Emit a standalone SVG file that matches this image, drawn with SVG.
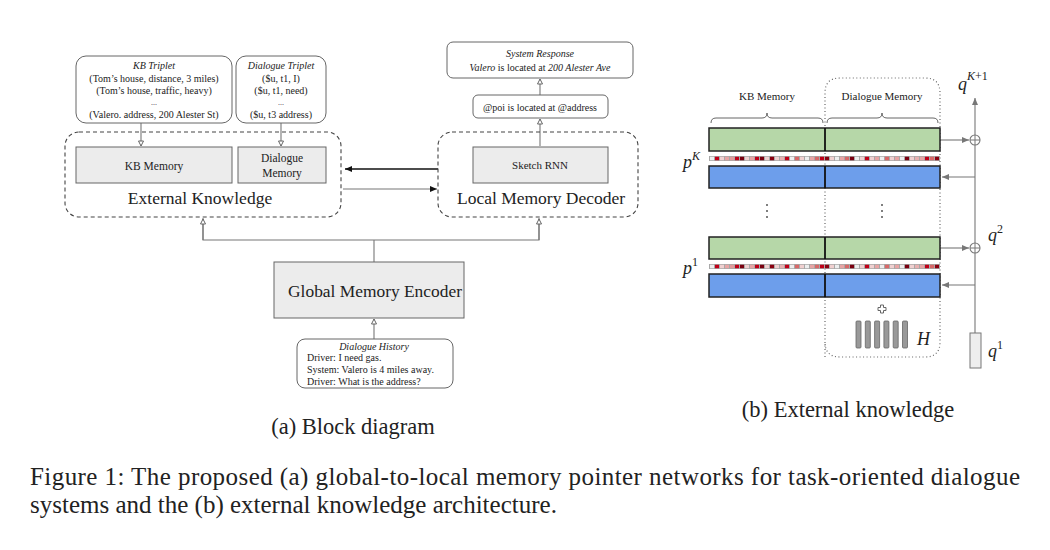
<svg xmlns="http://www.w3.org/2000/svg" xmlns:xlink="http://www.w3.org/1999/xlink" width="1050" height="550" viewBox="0 0 1050 550">
<style>
.serif{font-family:"Liberation Serif","Times New Roman",serif;fill:#222}
.it{font-style:italic}
.rbox{fill:#fff;stroke:#666;stroke-width:1}
.gbox{fill:#ececec;stroke:#666;stroke-width:1}
.dash{fill:none;stroke:#444;stroke-width:1.1;stroke-dasharray:4,3}
.conn{fill:none;stroke:#777;stroke-width:1.1}
.blk{fill:none;stroke:#111;stroke-width:1.3}
.green{fill:#b6d7a8;stroke:#222;stroke-width:1.5}
.blue{fill:#6d9eeb;stroke:#222;stroke-width:1.5}
.dot{fill:none;stroke:#666;stroke-width:1.2;stroke-dasharray:1,2.5}
</style>
<defs>
<marker id="ha" markerWidth="7" markerHeight="7" refX="6" refY="3.5" orient="auto" markerUnits="userSpaceOnUse">
<path d="M1,1 L6,3.5 L1,6 z" fill="#fff" stroke="#666" stroke-width="1"/>
</marker>
<marker id="hb" markerWidth="8" markerHeight="8" refX="7" refY="4" orient="auto" markerUnits="userSpaceOnUse">
<path d="M0,1 L7,4 L0,7 z" fill="#111"/>
</marker>
<marker id="hg" markerWidth="8" markerHeight="8" refX="7" refY="4" orient="auto" markerUnits="userSpaceOnUse">
<path d="M0,1 L7,4 L0,7 z" fill="#777"/>
</marker>
<g id="strip">
<rect x="709" y="0" width="231" height="5" fill="#a8a8a8"/>
<g transform="translate(0,0.75)">
<rect x="710" y="0" width="4" height="3.5" fill="#eeeeee"/><rect x="715" y="0" width="4" height="3.5" fill="#c00018"/><rect x="720" y="0" width="4" height="3.5" fill="#f0d0d0"/><rect x="725" y="0" width="4" height="3.5" fill="#e8a4a4"/><rect x="730" y="0" width="4" height="3.5" fill="#e39a9a"/><rect x="735" y="0" width="4" height="3.5" fill="#c00018"/><rect x="740" y="0" width="4" height="3.5" fill="#7a0010"/><rect x="745" y="0" width="4" height="3.5" fill="#f0d0d0"/><rect x="750" y="0" width="4" height="3.5" fill="#e8a4a4"/><rect x="755" y="0" width="4" height="3.5" fill="#c00018"/><rect x="760" y="0" width="4" height="3.5" fill="#7a0010"/><rect x="765" y="0" width="4" height="3.5" fill="#f0d0d0"/><rect x="770" y="0" width="4" height="3.5" fill="#8a0010"/><rect x="775" y="0" width="4" height="3.5" fill="#f0d0d0"/><rect x="780" y="0" width="4" height="3.5" fill="#e8b0b0"/><rect x="785" y="0" width="4" height="3.5" fill="#c00018"/><rect x="790" y="0" width="4" height="3.5" fill="#eeeeee"/><rect x="795" y="0" width="4" height="3.5" fill="#d86868"/><rect x="800" y="0" width="4" height="3.5" fill="#f0d0d0"/><rect x="805" y="0" width="4" height="3.5" fill="#eeeeee"/><rect x="810" y="0" width="4" height="3.5" fill="#e8a4a4"/><rect x="815" y="0" width="4" height="3.5" fill="#d86868"/><rect x="820" y="0" width="4" height="3.5" fill="#c00018"/><rect x="825" y="0" width="4" height="3.5" fill="#8a0010"/><rect x="830" y="0" width="4" height="3.5" fill="#f0d0d0"/><rect x="835" y="0" width="4" height="3.5" fill="#eeeeee"/><rect x="840" y="0" width="4" height="3.5" fill="#e8a4a4"/><rect x="845" y="0" width="4" height="3.5" fill="#d86868"/><rect x="850" y="0" width="4" height="3.5" fill="#7a0010"/><rect x="855" y="0" width="4" height="3.5" fill="#eeeeee"/><rect x="860" y="0" width="4" height="3.5" fill="#f0d0d0"/><rect x="865" y="0" width="4" height="3.5" fill="#c00018"/><rect x="870" y="0" width="4" height="3.5" fill="#f0d0d0"/><rect x="875" y="0" width="4" height="3.5" fill="#e8a4a4"/><rect x="880" y="0" width="4" height="3.5" fill="#eeeeee"/><rect x="885" y="0" width="4" height="3.5" fill="#d86868"/><rect x="890" y="0" width="4" height="3.5" fill="#f0d0d0"/><rect x="895" y="0" width="4" height="3.5" fill="#e8a4a4"/><rect x="900" y="0" width="4" height="3.5" fill="#eeeeee"/><rect x="905" y="0" width="4" height="3.5" fill="#7a0010"/><rect x="910" y="0" width="4" height="3.5" fill="#f0d0d0"/><rect x="915" y="0" width="4" height="3.5" fill="#e8b0b0"/><rect x="920" y="0" width="4" height="3.5" fill="#e8a4a4"/><rect x="925" y="0" width="4" height="3.5" fill="#c00018"/><rect x="930" y="0" width="4" height="3.5" fill="#d86868"/><rect x="935" y="0" width="4" height="3.5" fill="#8a0010"/>
</g>
</g>
<g id="oplus">
<circle cx="0" cy="0" r="5" fill="#fff" stroke="#777" stroke-width="1.1"/>
<path d="M-5,0 H5 M0,-5 V5" stroke="#777" stroke-width="1"/>
</g>
</defs>
<rect x="0" y="0" width="1050" height="550" fill="#fff"/>

<!-- ===== (a) Block diagram ===== -->
<g id="connectors">
<line class="conn" x1="141" y1="123" x2="141" y2="146" marker-end="url(#ha)"/>
<line class="conn" x1="281" y1="123" x2="281" y2="146" marker-end="url(#ha)"/>
<line class="blk" x1="438" y1="169" x2="345" y2="169" marker-end="url(#hb)"/>
<line class="conn" x1="343" y1="189" x2="437" y2="189" stroke="#555" marker-end="url(#hb)"/>
<line class="conn" x1="540" y1="146" x2="540" y2="119" marker-end="url(#ha)"/>
<line class="conn" x1="540" y1="95" x2="540" y2="79" marker-end="url(#ha)"/>
<line class="conn" x1="374" y1="262" x2="374" y2="240"/>
<polyline class="conn" points="203,218 203,240 539,240 539,218"/>
<line class="conn" x1="203" y1="240" x2="203" y2="219" marker-end="url(#ha)"/>
<line class="conn" x1="539" y1="240" x2="539" y2="219" marker-end="url(#ha)"/>
<line class="conn" x1="374" y1="339" x2="374" y2="319" marker-end="url(#ha)"/>
<!-- (b) connectors -->
<line class="conn" x1="975" y1="333" x2="975" y2="98" marker-end="url(#hg)"/>
<line class="conn" x1="940" y1="140" x2="969" y2="140" marker-end="url(#hg)"/>
<line class="conn" x1="975" y1="177" x2="942" y2="177" marker-end="url(#hg)"/>
<line class="conn" x1="940" y1="248" x2="969" y2="248" marker-end="url(#hg)"/>
<line class="conn" x1="975" y1="285" x2="942" y2="285" marker-end="url(#hg)"/>
</g>

<g id="kb-triplet">
<rect class="rbox" x="76" y="56" width="156" height="67" rx="10"/>
<text class="serif it" x="154" y="69" font-size="10" text-anchor="middle">KB Triplet</text>
<text class="serif" x="154" y="82" font-size="10" text-anchor="middle">(Tom’s house, distance, 3 miles)</text>
<text class="serif" x="154" y="94" font-size="10" text-anchor="middle">(Tom’s house, traffic, heavy)</text>
<text class="serif" x="154" y="105" font-size="8" text-anchor="middle" fill="#555">...</text>
<text class="serif" x="154" y="118" font-size="10" text-anchor="middle">(Valero. address, 200 Alester St)</text>
</g>
<g id="dialogue-triplet">
<rect class="rbox" x="236" y="56" width="90" height="67" rx="10"/>
<text class="serif it" x="281" y="69" font-size="10" text-anchor="middle">Dialogue Triplet</text>
<text class="serif" x="281" y="82" font-size="10" text-anchor="middle">($u, t1, I)</text>
<text class="serif" x="281" y="94" font-size="10" text-anchor="middle">($u, t1, need)</text>
<text class="serif" x="281" y="105" font-size="8" text-anchor="middle" fill="#555">...</text>
<text class="serif" x="281" y="118" font-size="10" text-anchor="middle">($u, t3 address)</text>
</g>
<g id="external-knowledge">
<rect class="dash" x="65" y="132" width="276" height="85" rx="14"/>
<rect class="gbox" x="76" y="147" width="156" height="36"/>
<text class="serif" x="154" y="169.5" font-size="11.5" text-anchor="middle">KB Memory</text>
<rect class="gbox" x="238" y="147" width="88" height="36"/>
<text class="serif" x="282" y="162" font-size="11.5" text-anchor="middle">Dialogue</text>
<text class="serif" x="282" y="177" font-size="11.5" text-anchor="middle">Memory</text>
<text class="serif" x="200" y="204" font-size="17.5" text-anchor="middle">External Knowledge</text>
</g>
<g id="local-memory-decoder">
<rect class="dash" x="438" y="132" width="200" height="85" rx="14"/>
<rect class="gbox" x="473" y="147" width="135" height="36"/>
<text class="serif" x="540" y="169" font-size="11" text-anchor="middle">Sketch RNN</text>
<text class="serif" x="541" y="204" font-size="17.5" text-anchor="middle">Local Memory Decoder</text>
</g>
<g id="sketch-response">
<rect class="rbox" x="473" y="95" width="135" height="23" rx="5"/>
<text class="serif" x="540" y="110.5" font-size="10" text-anchor="middle">@poi is located at @address</text>
</g>
<g id="system-response">
<rect class="rbox" x="447" y="42" width="186" height="36" rx="6"/>
<text class="serif it" x="540" y="57" font-size="10" text-anchor="middle">System Response</text>
<text class="serif" x="540" y="71" font-size="10" text-anchor="middle"><tspan font-style="italic">Valero</tspan> is located at <tspan font-style="italic">200 Alester Ave</tspan></text>
</g>
<g id="global-memory-encoder">
<rect class="gbox" x="274" y="262" width="190" height="56"/>
<text class="serif" x="375" y="297" font-size="17.4" text-anchor="middle">Global Memory Encoder</text>
</g>
<g id="dialogue-history">
<rect class="rbox" x="297" y="339" width="156" height="49" rx="8"/>
<text class="serif it" x="374" y="350" font-size="10" text-anchor="middle">Dialogue History</text>
<text class="serif" x="307" y="361" font-size="10">Driver: I need gas.</text>
<text class="serif" x="307" y="373" font-size="10">System: Valero is 4 miles away.</text>
<text class="serif" x="307" y="385" font-size="10">Driver: What is the address?</text>
</g>
<text class="serif" x="353" y="434" font-size="22.5" text-anchor="middle">(a) Block diagram</text>

<!-- ===== (b) External knowledge ===== -->
<g id="dialogue-region">
<path class="dot" d="M825,357 V93 Q825,78 840,78 H925 Q940,78 940,93 V342 Q940,357 925,357 H840 Q825,357 825,342"/>
</g>
<g id="labels-b">
<text class="serif" x="767" y="100" font-size="11" text-anchor="middle">KB Memory</text>
<text class="serif" x="882" y="100" font-size="11" text-anchor="middle">Dialogue Memory</text>
<path d="M711,123 Q711,118 716,118 H762 Q767,118 767,113 Q767,118 772,118 H818 Q823,118 823,123" fill="none" stroke="#555" stroke-width="0.9"/>
<path d="M827,123 Q827,118 832,118 H877 Q882,118 882,113 Q882,118 887,118 H933 Q938,118 938,123" fill="none" stroke="#555" stroke-width="0.9"/>
</g>
<g id="hop-K">
<rect class="green" x="709" y="128" width="231" height="23"/>
<line x1="825" y1="128" x2="825" y2="151" stroke="#111" stroke-width="1.8"/>
<use xlink:href="#strip" href="#strip" transform="translate(0,156)"/>
<rect class="blue" x="709" y="166" width="231" height="22"/>
<line x1="825" y1="166" x2="825" y2="188" stroke="#111" stroke-width="1.8"/>
<text class="serif it" x="683" y="168" font-size="18">p<tspan font-size="12" dy="-8" font-style="italic">K</tspan></text>
</g>
<g id="vdots">
<circle cx="767" cy="205" r="1" fill="#555"/><circle cx="767" cy="211" r="1" fill="#555"/><circle cx="767" cy="217" r="1" fill="#555"/>
<circle cx="882" cy="205" r="1" fill="#555"/><circle cx="882" cy="211" r="1" fill="#555"/><circle cx="882" cy="217" r="1" fill="#555"/>
</g>
<g id="hop-1">
<rect class="green" x="709" y="237" width="231" height="22"/>
<line x1="825" y1="237" x2="825" y2="259" stroke="#111" stroke-width="1.8"/>
<use xlink:href="#strip" href="#strip" transform="translate(0,264)"/>
<rect class="blue" x="709" y="274" width="231" height="23"/>
<line x1="825" y1="274" x2="825" y2="297" stroke="#111" stroke-width="1.8"/>
<text class="serif it" x="683" y="274" font-size="18">p<tspan font-size="12" dy="-8" font-style="normal">1</tspan></text>
</g>
<g id="history-H">
<path d="M880.5,305 h3 v2.5 h2.5 v3 h-2.5 v2.5 h-3 v-2.5 h-2.5 v-3 h2.5 z" fill="#fff" stroke="#666" stroke-width="1"/>
<rect x="856" y="321" width="5" height="27" rx="1" fill="#999" stroke="#666" stroke-width="0.8"/>
<rect x="865.3" y="321" width="5" height="27" rx="1" fill="#999" stroke="#666" stroke-width="0.8"/>
<rect x="874.6" y="321" width="5" height="27" rx="1" fill="#999" stroke="#666" stroke-width="0.8"/>
<rect x="883.9" y="321" width="5" height="27" rx="1" fill="#999" stroke="#666" stroke-width="0.8"/>
<rect x="893.2" y="321" width="5" height="27" rx="1" fill="#999" stroke="#666" stroke-width="0.8"/>
<rect x="902.5" y="321" width="5" height="27" rx="1" fill="#999" stroke="#666" stroke-width="0.8"/>
<text class="serif it" x="917" y="345" font-size="18">H</text>
</g>
<g id="query">
<use xlink:href="#oplus" href="#oplus" transform="translate(975,140)"/>
<use xlink:href="#oplus" href="#oplus" transform="translate(975,248)"/>
<rect x="970" y="333" width="11" height="35" fill="#eee" stroke="#777" stroke-width="1"/>
<text class="serif it" x="958" y="90" font-size="18">q<tspan font-size="12" dy="-10">K</tspan><tspan font-size="12" font-style="normal">+1</tspan></text>
<text class="serif it" x="988" y="241" font-size="18">q<tspan font-size="12" dy="-8" font-style="normal">2</tspan></text>
<text class="serif it" x="988" y="357" font-size="18">q<tspan font-size="12" dy="-8" font-style="normal">1</tspan></text>
</g>
<text class="serif" x="848" y="417" font-size="22.5" text-anchor="middle">(b) External knowledge</text>

<!-- ===== Figure caption ===== -->
<text class="serif" x="30" y="485" font-size="25" textLength="990" lengthAdjust="spacing">Figure 1:  The proposed (a) global-to-local memory pointer networks for task-oriented dialogue</text>
<text class="serif" x="30" y="513" font-size="25">systems and the (b) external knowledge architecture.</text>
</svg>
